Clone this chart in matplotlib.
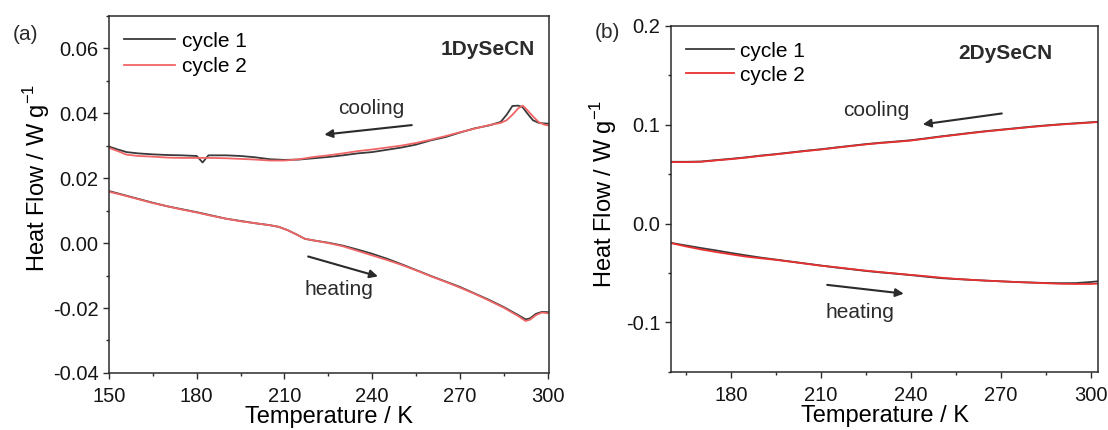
import numpy as np
import matplotlib
matplotlib.use('Agg')
import matplotlib.pyplot as plt
from matplotlib.ticker import MultipleLocator, FormatStrFormatter

plt.rcParams['font.family'] = ['Liberation Sans', 'DejaVu Sans']
plt.rcParams['axes.unicode_minus'] = False

# ---- panel (a) 1DySeCN ----
a_cool_T1 = [150, 153, 156, 160, 165, 170, 175, 180, 182, 184, 190, 195, 200, 205, 210, 215, 220, 225,
             230, 235, 240, 245, 250, 255, 260, 265, 270, 275, 280, 284, 286, 288, 290, 291.5, 293, 295,
             297, 299, 301]
a_cool_c1 = [0.0297, 0.0288, 0.0280, 0.0276, 0.0273, 0.0271, 0.0270, 0.0268, 0.0248, 0.0270, 0.0270,
             0.0268, 0.0264, 0.0258, 0.0256, 0.0257, 0.0261, 0.0265, 0.0270, 0.0276, 0.0280, 0.0287,
             0.0294, 0.0303, 0.0316, 0.0326, 0.0340, 0.0353, 0.0362, 0.0373, 0.0395, 0.0422, 0.0423,
             0.0418, 0.0400, 0.0378, 0.0370, 0.0368, 0.0367]
a_cool_T2 = [150, 153, 156, 160, 165, 170, 175, 180, 185, 190, 195, 200, 205, 210, 215, 220, 225, 230,
             235, 240, 245, 250, 255, 260, 265, 270, 275, 280, 284, 286, 288, 290, 291.5, 293, 295, 297,
             299, 301]
a_cool_c2 = [0.0293, 0.0283, 0.0272, 0.0268, 0.0266, 0.0263, 0.0262, 0.0262, 0.0262, 0.0261, 0.0259,
             0.0257, 0.0254, 0.0254, 0.0258, 0.0265, 0.0270, 0.0276, 0.0283, 0.0288, 0.0294, 0.0300,
             0.0308, 0.0318, 0.0329, 0.0341, 0.0352, 0.0363, 0.0370, 0.0378, 0.0395, 0.0415, 0.0423,
             0.0410, 0.0390, 0.0372, 0.0364, 0.0361]

a_heat_T = [150, 155, 160, 165, 170, 175, 180, 185, 190, 195, 200, 205, 208, 211, 214, 217, 220, 225,
            230, 235, 240, 245, 250, 255, 260, 265, 270, 275, 280, 285, 290, 292.5, 294, 296, 298, 301]
a_heat_c1 = [0.0160, 0.0148, 0.0136, 0.0124, 0.0113, 0.0104, 0.0095, 0.0085, 0.0075, 0.0068, 0.0061,
             0.0055, 0.0050, 0.0040, 0.0027, 0.0013, 0.0008, 0.0001, -0.0008, -0.0020, -0.0033, -0.0048,
             -0.0065, -0.0083, -0.0101, -0.0118, -0.0135, -0.0155, -0.0175, -0.0197, -0.0222, -0.0235,
             -0.0232, -0.0218, -0.0212, -0.0213]
a_heat_c2 = [0.0158, 0.0147, 0.0135, 0.0123, 0.0113, 0.0103, 0.0094, 0.0084, 0.0075, 0.0067, 0.0061,
             0.0055, 0.0050, 0.0040, 0.0027, 0.0013, 0.0008, 0.0000, -0.0010, -0.0024, -0.0038, -0.0052,
             -0.0067, -0.0084, -0.0102, -0.0119, -0.0137, -0.0156, -0.0177, -0.0199, -0.0225, -0.0240,
             -0.0236, -0.0222, -0.0214, -0.0217]

# ---- panel (b) 2DySeCN ----
b_cool_T = [160, 165, 170, 175, 180, 185, 190, 195, 200, 205, 210, 215, 220, 225, 230, 235, 240, 245,
            250, 255, 260, 265, 270, 275, 280, 285, 290, 295, 302.5]
b_cool_c1 = [0.0625, 0.0625, 0.0628, 0.0642, 0.0655, 0.0670, 0.0688, 0.0703, 0.0720, 0.0737, 0.0752,
             0.0770, 0.0787, 0.0804, 0.0818, 0.0830, 0.0843, 0.0862, 0.0882, 0.0900, 0.0918, 0.0935,
             0.0950, 0.0965, 0.0980, 0.0993, 0.1005, 0.1015, 0.1030]
b_cool_c2 = [0.0622, 0.0622, 0.0625, 0.0639, 0.0652, 0.0667, 0.0685, 0.0700, 0.0717, 0.0734, 0.0749,
             0.0767, 0.0784, 0.0801, 0.0815, 0.0827, 0.0840, 0.0859, 0.0879, 0.0897, 0.0915, 0.0932,
             0.0947, 0.0962, 0.0977, 0.0990, 0.1002, 0.1012, 0.1027]

b_heat_T = [160, 165, 170, 175, 180, 185, 190, 195, 200, 205, 210, 215, 220, 225, 230, 235, 240, 245,
            250, 255, 260, 265, 270, 275, 280, 285, 290, 295, 300, 302.5]
b_heat_c1 = [-0.0196, -0.0222, -0.0248, -0.0272, -0.0298, -0.0322, -0.0345, -0.0365, -0.0385, -0.0405,
             -0.0425, -0.0445, -0.0462, -0.0480, -0.0495, -0.0508, -0.0522, -0.0538, -0.0553, -0.0562,
             -0.0570, -0.0578, -0.0585, -0.0592, -0.0597, -0.0602, -0.0604, -0.0603, -0.0592, -0.0585]
b_heat_c2 = [-0.0198, -0.0232, -0.0262, -0.0288, -0.0312, -0.0335, -0.0352, -0.0368, -0.0387, -0.0407,
             -0.0427, -0.0442, -0.0460, -0.0477, -0.0492, -0.0506, -0.0520, -0.0533, -0.0548, -0.0560,
             -0.0570, -0.0578, -0.0585, -0.0592, -0.0598, -0.0604, -0.0610, -0.0612, -0.0612, -0.0608]

labels = ['cycle 1', 'cycle 2']

TXT = '#2b2b2b'
BLK = '#3a3a3a'

fig = plt.figure(figsize=(11.08, 4.3), dpi=100)
ax1 = fig.add_axes([0.0984, 0.1326, 0.3971, 0.831])
ax2 = fig.add_axes([0.6056, 0.1356, 0.3854, 0.804])


def style(ax):
    for s in ax.spines.values():
        s.set_color(TXT)
        s.set_linewidth(1.1)
    ax.tick_params(which='both', direction='out', colors=TXT, labelcolor='#151515', labelsize=14.5,
                   width=1.0, top=False, right=False)
    ax.tick_params(which='major', length=4)
    ax.tick_params(which='minor', length=2.5)
    ax.tick_params(axis='x', pad=6)
    ax.set_xlabel('Temperature / K', fontsize=17, color='black', labelpad=0)
    ax.set_ylabel('Heat Flow / W g$^{\\mathregular{-1}}$', fontsize=17, color='black')


# panel a
red_a = '#f06565'
ax1.plot(a_cool_T1, a_cool_c1, color=BLK, lw=1.3, label=labels[0])
ax1.plot(a_cool_T2, a_cool_c2, color=red_a, lw=1.3, label=labels[1])
ax1.plot(a_heat_T, a_heat_c1, color=BLK, lw=1.3)
ax1.plot(a_heat_T, a_heat_c2, color=red_a, lw=1.3)
ax1.set_xlim(150, 300.5)
ax1.set_ylim(-0.04, 0.07)
ax1.xaxis.set_major_locator(MultipleLocator(30))
ax1.xaxis.set_minor_locator(MultipleLocator(15))
ax1.yaxis.set_major_locator(MultipleLocator(0.02))
ax1.yaxis.set_minor_locator(MultipleLocator(0.01))
ax1.yaxis.set_major_formatter(FormatStrFormatter('%.2f'))
style(ax1)
ax1.yaxis.set_label_coords(-0.13, 0.547)
ax1.legend(loc='upper left', bbox_to_anchor=(0.035, 0.955), frameon=False, fontsize=15,
           handlelength=2.45, handletextpad=0.3, labelspacing=0.3, borderpad=0, borderaxespad=0)
ax1.text(279.6, 0.0595, '1DySeCN', fontsize=15, fontweight='bold', color=TXT, ha='center', va='center')
ax1.text(239.8, 0.0415, 'cooling', fontsize=15, color=TXT, ha='center', va='center')
ax1.text(228.6, -0.0142, 'heating', fontsize=15, color=TXT, ha='center', va='center')
ax1.annotate('', xy=(222.7, 0.0333), xytext=(254.5, 0.0364),
             arrowprops=dict(arrowstyle='-|>', color=TXT, lw=1.5, mutation_scale=12))
ax1.annotate('', xy=(242.9, -0.0105), xytext=(217.2, -0.0039),
             arrowprops=dict(arrowstyle='-|>', color=TXT, lw=1.5, mutation_scale=12))
fig.text(25 / 1108, 1 - 34 / 430, '(a)', fontsize=15, color=TXT, ha='center', va='center')

# panel b
red_b = '#e83030'
ax2.plot(b_cool_T, b_cool_c1, color=BLK, lw=1.3, label=labels[0])
ax2.plot(b_cool_T, b_cool_c2, color=red_b, lw=1.3, label=labels[1])
ax2.plot(b_heat_T, b_heat_c1, color=BLK, lw=1.3)
ax2.plot(b_heat_T, b_heat_c2, color=red_b, lw=1.3)
ax2.set_xlim(160, 302.5)
ax2.set_ylim(-0.15, 0.2)
ax2.set_xticks([180, 210, 240, 270, 300])
ax2.set_xticks([165, 195, 225, 255, 285], minor=True)
ax2.yaxis.set_major_locator(MultipleLocator(0.1))
ax2.yaxis.set_minor_locator(MultipleLocator(0.05))
ax2.yaxis.set_major_formatter(FormatStrFormatter('%.1f'))
style(ax2)
ax2.yaxis.set_label_coords(-0.122, 0.514)
ax2.legend(loc='upper left', bbox_to_anchor=(0.035, 0.955), frameon=False, fontsize=15,
           handlelength=2.3, handletextpad=0.3, labelspacing=0.25, borderpad=0, borderaxespad=0)
ax2.text(271.7, 0.1726, '2DySeCN', fontsize=15, fontweight='bold', color=TXT, ha='center', va='center')
ax2.text(228.5, 0.1142, 'cooling', fontsize=15, color=TXT, ha='center', va='center')
ax2.text(223.0, -0.0899, 'heating', fontsize=15, color=TXT, ha='center', va='center')
ax2.annotate('', xy=(243.1, 0.1000), xytext=(271.3, 0.1118),
             arrowprops=dict(arrowstyle='-|>', color=TXT, lw=1.5, mutation_scale=12))
ax2.annotate('', xy=(238.6, -0.0713), xytext=(211.2, -0.0618),
             arrowprops=dict(arrowstyle='-|>', color=TXT, lw=1.5, mutation_scale=12))
fig.text(607 / 1108, 1 - 33 / 430, '(b)', fontsize=15, color=TXT, ha='center', va='center')

fig.savefig('out.png', dpi=100)
